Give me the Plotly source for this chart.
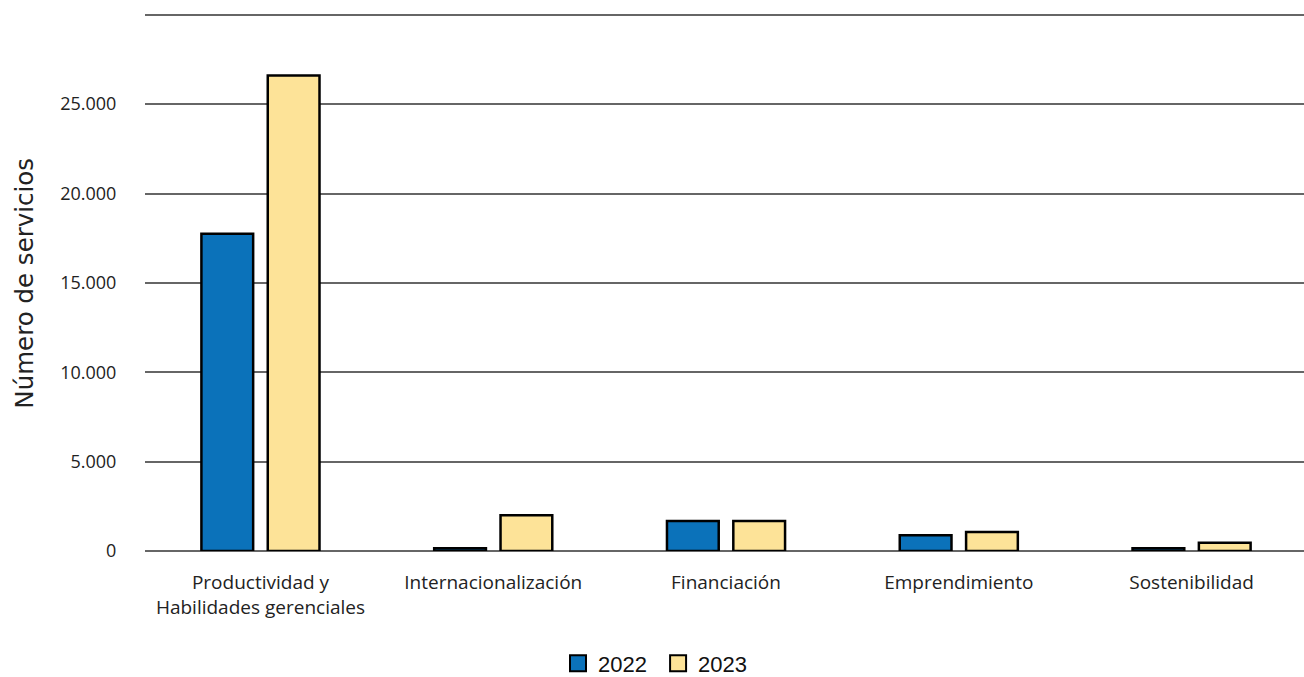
import plotly.graph_objects as go

categories = ["Productividad y<br>Habilidades gerenciales", "Internacionalización",
              "Financiación", "Emprendimiento", "Sostenibilidad"]
values_2022 = [17750, 150, 1680, 880, 150]
values_2023 = [26600, 2000, 1680, 1060, 460]
series_names = ["2022", "2023"]
colors = ["#0B72BA", "#FDE398"]
tick_vals = [0, 5000, 10000, 15000, 20000, 25000, 30000]
tick_text = ["0", "5.000", "10.000", "15.000", "20.000", "25.000", ""]
y_title = "Número de servicios"

fig = go.Figure()
for name, vals, col in zip(series_names, [values_2022, values_2023], colors):
    fig.add_trace(go.Bar(x=categories, y=vals, name=name, showlegend=False,
                         marker=dict(color=col, line=dict(color="#000000", width=2.5))))
for name, col in zip(series_names, colors):
    fig.add_trace(go.Scatter(x=[None], y=[None], mode="markers", name=name + "\u00a0",
                             marker=dict(symbol="square", size=22, color=col,
                                         line=dict(color="#000000", width=2))))

fig.add_annotation(text=y_title, textangle=-90, xref="paper", yref="paper",
                   x=-0.1035, y=0.497, xanchor="center", yanchor="middle",
                   showarrow=False,
                   font=dict(size=24.5, family="DejaVu Sans", color="#222222"))

fig.update_layout(
    width=1304, height=677,
    margin=dict(l=145, r=0, t=13, b=126),
    paper_bgcolor="white", plot_bgcolor="white",
    barmode="group", bargap=0.43, bargroupgap=0.22,
    font=dict(family="Liberation Sans, Arial", color="#222222"),
    legend=dict(orientation="h", xref="container", yref="container",
                x=0.505, xanchor="center", y=0.02, yanchor="middle",
                font=dict(size=22, family="Liberation Sans, Arial", color="#111111"),
                itemwidth=30, traceorder="normal"),
    xaxis=dict(range=[-0.496, 4.483], showgrid=False, showline=False,
               ticks="outside", ticklen=14, tickcolor="rgba(0,0,0,0)",
               tickfont=dict(size=19, family="Open Sans", color="#222222")),
    yaxis=dict(range=[0, 30100], tickvals=tick_vals, ticktext=tick_text,
               showgrid=True, gridcolor="#666666", gridwidth=2,
               zeroline=True, zerolinecolor="#666666", zerolinewidth=2,
               ticks="outside", ticklen=24, tickcolor="rgba(0,0,0,0)",
               tickfont=dict(size=18, family="Open Sans", color="#222222")),
)

fig.write_html("out.html", config={"displayModeBar": False},
               post_script="document.body.style.margin='0';document.body.style.overflow='hidden';")
